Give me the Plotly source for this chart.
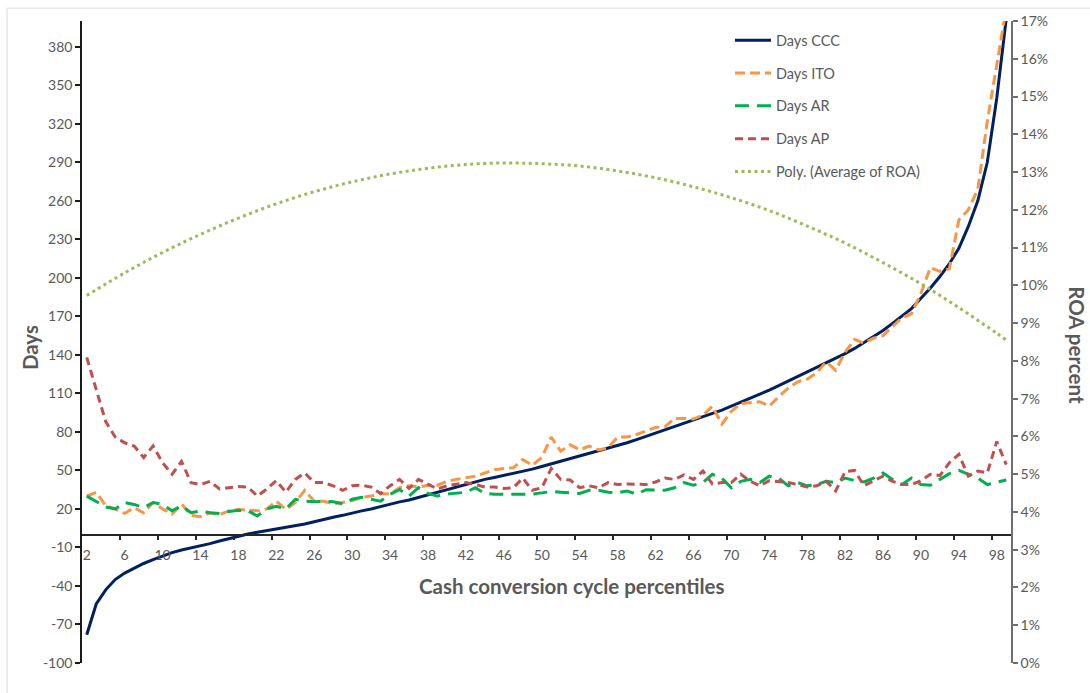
import plotly.graph_objects as go

# ---- data ----
percentiles = list(range(2, 100))

days_ccc = [-78, -54, -43, -35, -30, -26, -22.5, -19.5, -16.5, -14, -12, -10.5, -9, -7, -5, -3, -1, 0.5, 1.8, 3,
            4.5, 5.8, 7, 8.2, 10, 12, 13.5, 15, 17, 18.5, 20, 22, 24, 25.5, 27, 29, 31.5, 33.5, 35.5, 37.5,
            39, 41, 43, 44.5, 46, 48, 49.5, 51, 53, 55, 57, 59, 61, 63, 65, 67, 69, 71.5, 74, 76.5,
            79, 81.5, 84, 86.5, 89, 91.5, 94, 97, 100, 103, 106, 109, 112.5, 116, 119.5, 123, 126.5, 130, 134, 137.5,
            141, 145, 149.5, 154, 159, 164.5, 170, 176, 184, 192, 201, 211, 223, 240, 260, 290, 340, 402]

days_ito = [30, 33, 22.5, 20, 16.5, 21, 17, 25, 20, 16, 24, 15, 14, 17, 15.5, 18.5, 19.5, 19, 18.5, 20,
            26, 19.5, 25, 34.5, 26, 26, 24, 25, 26.5, 29, 30, 32, 31.5, 36.5, 38, 37, 38.5, 38.5, 41.5, 43,
            44.5, 45.5, 48, 50.5, 51.5, 52, 58.5, 54, 60, 76, 65, 70, 66, 69, 66, 67.5, 76, 76, 78, 81,
            83.5, 84, 90.5, 90.5, 90, 93, 100, 86, 96, 102, 103, 103.5, 100, 107.5, 114, 119, 121, 126, 134.5, 128,
            142, 152, 149, 153, 155, 162, 169, 172, 188, 208, 205, 207, 245, 253, 269, 322, 368, 410]

days_ar = [30, 26, 21.5, 20, 25, 23.5, 21, 25, 23.5, 18.5, 22.5, 17, 18.5, 17, 16.5, 18, 19, 18.5, 14.5, 20,
           22, 20, 27.5, 26, 25.5, 26, 25.5, 24, 27.5, 29, 27.5, 26, 31.5, 35, 30, 36.5, 32, 30, 31.5, 32,
           33, 36.5, 32, 31.5, 31.5, 31.5, 32, 31.5, 32.5, 33.5, 33, 32.5, 32, 34.5, 34.5, 33, 32.5, 34, 31.5, 35,
           35, 34.5, 36.5, 40.5, 38.5, 40.5, 47, 44, 36.5, 41.5, 43, 40.5, 45.5, 44, 38, 40.5, 38, 39, 41.5, 40.5,
           44, 42, 41, 44, 48, 43, 39, 44, 39, 38.5, 43, 47.5, 50, 47, 44, 39, 41, 42.5]

days_ap = [138, 112, 88, 76, 71.5, 69, 60, 69, 56, 47, 57, 40.5, 39, 41.5, 35.5, 36.5, 37.5, 37, 30, 35.5,
           42, 33, 43, 48, 40.5, 40.5, 38, 34.5, 38, 38.5, 37, 32, 38, 43, 36, 43, 39.5, 35.5, 38, 39,
           40.5, 39, 37, 37, 36, 36.5, 44, 34.5, 36.5, 51.5, 43, 42.5, 36.5, 38, 36.5, 40.5, 39, 39.5, 39.5, 39,
           41, 44, 43, 46.5, 43, 49.5, 39.5, 40.5, 40.5, 47, 41.5, 38, 42, 41.5, 40.5, 39, 37, 38, 41.5, 34,
           49, 50, 38, 42, 45.5, 41.5, 39, 39, 42, 47, 46, 56, 62.5, 45.5, 49.5, 48, 72.5, 54.5]

# polynomial trend of average ROA (fraction), read at selected percentiles
trend_pct = [2, 6, 10, 14, 18, 22, 26, 30, 34, 38, 42, 46, 50, 54, 58, 62, 66, 70, 74, 78, 82, 86, 90, 94, 98, 99]
trend_roa = [0.0973, 0.1033, 0.1087, 0.1135, 0.1178, 0.1216, 0.1248, 0.1274, 0.1295, 0.1310, 0.1320, 0.1324,
             0.1322, 0.1316, 0.1303, 0.1285, 0.1261, 0.1232, 0.1198, 0.1157, 0.1112, 0.1060, 0.1004, 0.0941,
             0.0873, 0.0855]

x_label_vals = list(range(2, 100, 4))
x_tick_marks = [v + 3.5 for v in range(2, 98, 4)]
left_ticks = list(range(-100, 381, 30))
left_tick_text = [str(v) for v in left_ticks]
right_ticks = [i / 100 for i in range(0, 18)]
right_tick_text = [f"{i}%" for i in range(0, 18)]

GREY = "#595959"
FONT = "Lato"
TICKFONT = dict(family=FONT, size=14, color=GREY)
TITLEFONT = dict(family=FONT, size=20.5, color=GREY, weight="bold")

fig = go.Figure()
fig.add_trace(go.Scatter(x=percentiles, y=days_ccc, name="Days CCC", mode="lines", legendgroup="a",
                         line=dict(color="#002060", width=3)))
fig.add_trace(go.Scatter(x=percentiles, y=days_ito, name="Days ITO", mode="lines", legendgroup="b",
                         line=dict(color="#F79646", width=3, dash="10px,5px")))
fig.add_trace(go.Scatter(x=percentiles, y=days_ar, name="Days AR", mode="lines", legendgroup="c",
                         line=dict(color="#00B050", width=3, dash="14px,8px")))
fig.add_trace(go.Scatter(x=percentiles, y=days_ap, name="Days AP", mode="lines", legendgroup="d",
                         line=dict(color="#C0504D", width=3, dash="8px,5px")))
fig.add_trace(go.Scatter(x=trend_pct, y=trend_roa, name="Poly. (Average of ROA)", mode="lines",
                         legendgroup="e", yaxis="y2",
                         line=dict(color="#9BBB59", width=3, dash="3px,3.5px", shape="spline")))

fig.update_layout(
    width=1090, height=693,
    margin=dict(l=82, r=79, t=17, b=30),
    paper_bgcolor="white", plot_bgcolor="white",
    font=dict(family=FONT, color=GREY, size=14),
    showlegend=True,
    legend=dict(x=0.6975, y=0.995, xanchor="left", yanchor="top", traceorder="grouped",
                tracegroupgap=11, itemwidth=36, bgcolor="rgba(0,0,0,0)",
                font=dict(family=FONT, size=14.5, color=GREY)),
    xaxis=dict(range=[1.5, 99.5], anchor="free", position=0.2, showgrid=False, zeroline=False,
               showline=True, linecolor="#262626", linewidth=1.5,
               tickmode="array", tickvals=x_label_vals, ticktext=[str(v) for v in x_label_vals],
               ticks="outside", ticklen=8, tickcolor="rgba(0,0,0,0)",
               tickfont=TICKFONT,
               minor=dict(tickmode="array", tickvals=x_tick_marks, ticks="outside", ticklen=5,
                          tickcolor="#262626", tickwidth=1.5)),
    yaxis=dict(range=[-100, 400], showgrid=False, zeroline=False, showline=True,
               linecolor="#1a1a1a", linewidth=1.5, tickmode="array", tickvals=left_ticks,
               ticktext=left_tick_text,
               ticks="outside", ticklen=5, tickcolor="#1a1a1a", tickwidth=1.5,
               tickfont=TICKFONT),
    yaxis2=dict(range=[0, 0.17], overlaying="y", side="right", showgrid=False, zeroline=False,
                showline=True, linecolor="#6f6f6f", linewidth=1.5, tickmode="array",
                tickvals=right_ticks, ticktext=right_tick_text, ticks="outside", ticklen=5,
                tickcolor="#6f6f6f", tickwidth=1.5,
                tickfont=TICKFONT),
    annotations=[
        dict(text="Days", xref="paper", yref="paper", x=-0.056, y=0.492, showarrow=False,
             xanchor="center", yanchor="middle", textangle=-90, font=TITLEFONT),
        dict(text="Cash conversion cycle percentiles", xref="paper", yref="paper", x=0.5274, y=0.1207,
             xanchor="center", yanchor="middle", showarrow=False, font=TITLEFONT),
        dict(text="ROA percent", xref="paper", yref="paper", x=1.071, y=0.495, showarrow=False,
             xanchor="center", yanchor="middle", textangle=90, font=TITLEFONT),
    ],
    shapes=[dict(type="rect", xref="paper", yref="paper", x0=-0.0807, x1=1.0904, y0=-0.06, y1=1.0201,
                 line=dict(color="#d9d9d9", width=1), layer="below")],
)

fig.write_html("out.html", config={"displayModeBar": False},
               post_script="document.body.style.margin='0';document.body.style.overflow='hidden';")
